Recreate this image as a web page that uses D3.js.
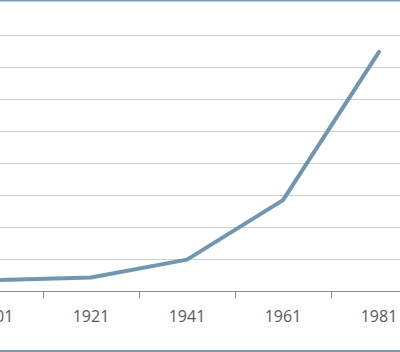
<!DOCTYPE html>
<html>
<head>
<meta charset="utf-8">
<script src="https://cdn.jsdelivr.net/npm/d3@7"></script>
<style>
  html, body { margin: 0; padding: 0; background: #fff; }
  svg { display: block; }
</style>
</head>
<body>
<div id="chart"></div>
<script>
// categories and values
var years = ["1901", "1921", "1941", "1961", "1981"];
var values = [34, 42, 98, 284, 747];
var gridValues = [100, 200, 300, 400, 500, 600, 700, 800];

var width = 400, height = 352;

var svg = d3.select("#chart").append("svg")
    .attr("width", width)
    .attr("height", height);

// band axis, first category is partly cut off on the left
var x = d3.scaleBand()
    .domain(years)
    .range([-53, 427])
    .paddingInner(0)
    .paddingOuter(0);

var y = d3.scaleLinear()
    .domain([0, 900])
    .range([291, 3]);

// gridlines
svg.append("g")
    .selectAll("line")
    .data(gridValues)
    .join("line")
    .attr("x1", 0)
    .attr("x2", width)
    .attr("y1", function(d) { return Math.round(y(d)) + 0.5; })
    .attr("y2", function(d) { return Math.round(y(d)) + 0.5; })
    .attr("stroke", "#d0d0d0")
    .attr("stroke-width", 1);

// x axis
var axis = svg.append("g")
    .attr("transform", "translate(0," + (y(0) + 0.5) + ")")
    .call(d3.axisBottom(x).tickSize(0).tickPadding(19));

axis.select(".domain").remove();
axis.append("line")
    .attr("x1", 0).attr("x2", width)
    .attr("stroke", "#8c8c8c");

axis.selectAll(".tick text")
    .attr("font-family", "'Open Sans', sans-serif")
    .attr("font-size", "16px")
    .attr("fill", "#595959");

// ticks between categories
axis.append("g")
    .selectAll("line")
    .data(years.slice(1))
    .join("line")
    .attr("x1", function(d) { return Math.round(x(d)) + 0.5; })
    .attr("x2", function(d) { return Math.round(x(d)) + 0.5; })
    .attr("y1", 0)
    .attr("y2", 7)
    .attr("stroke", "#8c8c8c");

// the series
var line = d3.line()
    .x(function(d, i) { return x(years[i]) + x.bandwidth() / 2; })
    .y(function(d) { return y(d); });

svg.append("path")
    .datum(values)
    .attr("d", line)
    .attr("fill", "none")
    .attr("stroke", "#7096b0")
    .attr("stroke-width", 4)
    .attr("stroke-linejoin", "round")
    .attr("stroke-linecap", "round");

// frame lines top and bottom
svg.append("line")
    .attr("x1", 0).attr("x2", width)
    .attr("y1", 0.5).attr("y2", 0.5)
    .attr("stroke", "#7f9bb1")
    .attr("stroke-width", 2);

svg.append("line")
    .attr("x1", 0).attr("x2", width)
    .attr("y1", 351).attr("y2", 351)
    .attr("stroke", "#7f9bb1")
    .attr("stroke-width", 2);
</script>
</body>
</html>
